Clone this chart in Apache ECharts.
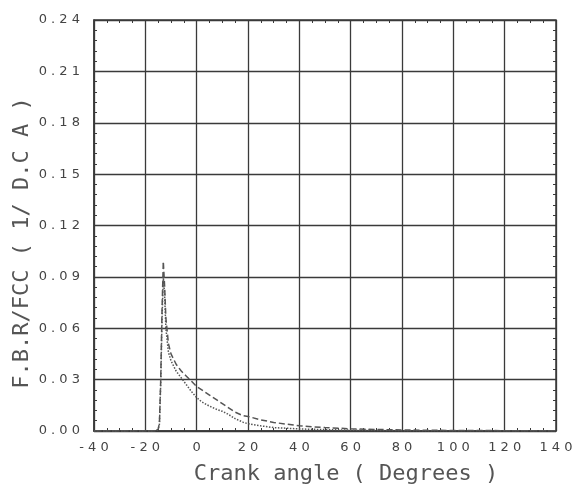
<!DOCTYPE html>
<html>
<head>
<meta charset="utf-8">
<script src="https://cdn.jsdelivr.net/npm/echarts@6/dist/echarts.min.js"></script>
<style>
html,body{margin:0;padding:0;background:#fff;}
#main{width:583px;height:497px;}
</style>
</head>
<body>
<div id="main"></div>
<script>
// Crank angle (degrees)
const anglesA = [-40, -30, -20, -16, -15, -14.5, -14, -13.5, -13, -12.5, -12, -11, -10, -8, -6, -4, -2, 0, 2, 5, 8, 10, 12, 15, 18, 20, 25, 30, 35, 40, 50, 60, 70, 80, 100, 120, 140];
const fbrA    = [0, 0, 0, 0, 0.001, 0.005, 0.03, 0.07, 0.099, 0.085, 0.066, 0.051, 0.045, 0.039, 0.035, 0.032, 0.029, 0.026, 0.024, 0.021, 0.018, 0.016, 0.014, 0.011, 0.009, 0.0085, 0.0065, 0.005, 0.004, 0.003, 0.002, 0.0013, 0.0009, 0.0006, 0.0003, 0.0002, 0.0001];
const anglesB = [-40, -30, -20, -16, -15, -14.5, -14, -13.5, -13, -12.5, -12, -11, -10, -8, -6, -4, -2, 0, 2, 5, 8, 10, 12, 15, 18, 20, 25, 30, 40, 50, 60, 80, 100, 120, 140];
const fbrB    = [0, 0, 0, 0, 0.001, 0.004, 0.028, 0.065, 0.09, 0.08, 0.06, 0.046, 0.041, 0.035, 0.031, 0.027, 0.023, 0.0195, 0.017, 0.0145, 0.0125, 0.0115, 0.0100, 0.0072, 0.0052, 0.0042, 0.003, 0.002, 0.0012, 0.0008, 0.0005, 0.0002, 0.0001, 0.0001, 0.0001];
const xTicks = { min: -40, max: 140, interval: 20 };
const yTicks = { min: 0, max: 0.24, interval: 0.03 };
const xTitle = 'Crank angle ( Degrees )';
const yTitle = 'F.B.R/FCC ( 1/ D.C A )';

const spaced = s => s.split('').join(' ');
const ink = '#3a3a3a';
const titleFont = { fontFamily: 'DejaVu Sans Mono', fontSize: 22, fill: '#555' };
const chart = echarts.init(document.getElementById('main'));
chart.setOption({
  animation: false,
  backgroundColor: '#fff',
  grid: { left: 94, right: 27, top: 20, bottom: 66, show: true, borderColor: ink, borderWidth: 1.5 },
  graphic: [
    { type: 'text', x: 346, y: 474, style: Object.assign({ text: xTitle, align: 'center', verticalAlign: 'middle' }, titleFont) },
    { type: 'text', x: 22, y: 243, rotation: Math.PI / 2, style: Object.assign({ text: yTitle, align: 'center', verticalAlign: 'middle' }, titleFont) }
  ],
  xAxis: [{
    type: 'value', min: xTicks.min, max: xTicks.max, interval: xTicks.interval,
    axisLine: { show: true, onZero: false, lineStyle: { color: ink, width: 1.5 } },
    axisTick: { show: false, inside: true },
    minorTick: { show: true, splitNumber: 4, length: 3, lineStyle: { color: ink } },
    axisLabel: { margin: 10, fontFamily: 'DejaVu Sans', fontSize: 13, color: '#444', formatter: v => spaced(String(v)) },
    splitLine: { show: true, lineStyle: { color: ink, width: 1.3 } }
  }, {
    type: 'value', position: 'top', min: xTicks.min, max: xTicks.max, interval: xTicks.interval,
    axisLine: { show: false, onZero: false }, axisTick: { show: false, inside: true }, axisLabel: { show: false },
    minorTick: { show: true, splitNumber: 4, length: 3, lineStyle: { color: ink } },
    splitLine: { show: false }
  }],
  yAxis: [{
    type: 'value', min: yTicks.min, max: yTicks.max, interval: yTicks.interval,
    axisLine: { show: true, onZero: false, lineStyle: { color: ink, width: 1.5 } },
    axisTick: { show: false, inside: true },
    minorTick: { show: true, splitNumber: 5, length: 3, lineStyle: { color: ink } },
    axisLabel: { margin: 14, fontFamily: 'DejaVu Sans', fontSize: 13, color: '#444', formatter: v => spaced(v.toFixed(2)) },
    splitLine: { show: true, lineStyle: { color: ink, width: 1.3 } }
  }, {
    type: 'value', position: 'right', min: yTicks.min, max: yTicks.max, interval: yTicks.interval,
    axisLine: { show: false, onZero: false }, axisTick: { show: false, inside: true }, axisLabel: { show: false },
    minorTick: { show: true, splitNumber: 5, length: 3, lineStyle: { color: ink } },
    splitLine: { show: false }
  }],
  series: [{
    type: 'line', showSymbol: false, xAxisIndex: 0, yAxisIndex: 0,
    data: anglesA.map((a, i) => [a, fbrA[i]]),
    lineStyle: { color: '#555', width: 1.5, type: 'dashed' }
  }, {
    type: 'line', showSymbol: false, xAxisIndex: 0, yAxisIndex: 0,
    data: anglesB.map((a, i) => [a, fbrB[i]]),
    lineStyle: { color: '#555', width: 1.5, type: 'dotted' }
  }]
});
</script>
</body>
</html>
